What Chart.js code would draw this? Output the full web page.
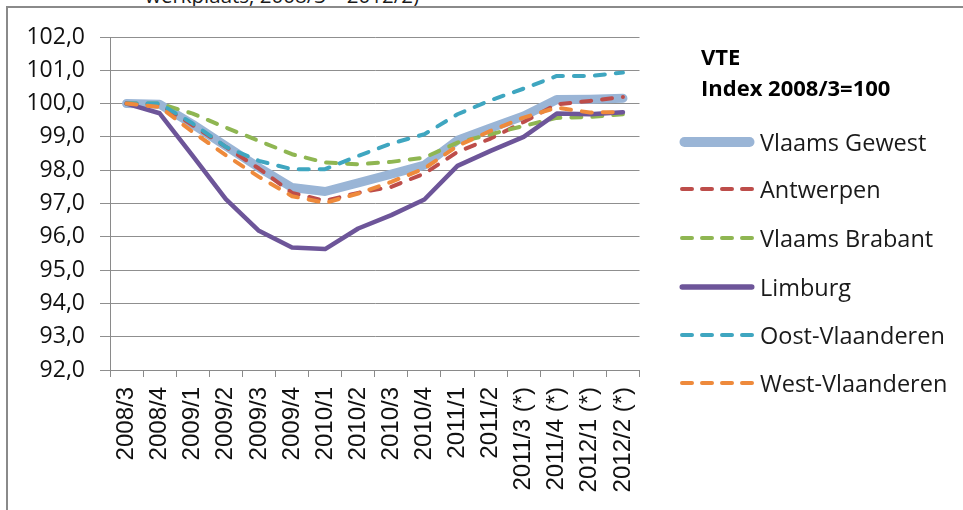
<!DOCTYPE html>
<html lang="nl">
<head>
  <meta charset="UTF-8" />
  <title>VTE Index 2008/3=100</title>
  <script src="https://cdn.jsdelivr.net/npm/chart.js"></script>
  <style>
    * { box-sizing: border-box; }
    html, body {
      margin: 0;
      width: 963px;
      height: 510px;
      overflow: hidden;
      background: #ffffff;
      font-family: 'Open Sans', sans-serif;
      color: #1a1a1a;
    }
    .kader {
      position: absolute;
      left: 6px;
      top: 6px;
      width: 1100px;
      height: 700px;
      border-top: 2px solid #8a8a8a;
      border-left: 2px solid #8a8a8a;
    }
    .koptekst {
      position: absolute;
      left: 145px;
      top: -15px;
      font-size: 20.5px;
      line-height: 20px;
      white-space: nowrap;
    }
    #grafiek {
      position: absolute;
      left: 0;
      top: 0;
    }
    .titel {
      position: absolute;
      left: 701px;
      top: 41px;
      font-weight: bold;
      font-size: 22px;
      line-height: 31px;
      color: #000;
    }
    .legende {
      position: absolute;
      left: 678px;
      top: 0;
    }
    .item {
      position: absolute;
      left: 0;
      height: 34px;
      display: flex;
      align-items: center;
      white-space: nowrap;
      font-size: 23.5px;
    }
    .item svg { margin-right: 2px; }
  </style>
</head>
<body>
  <div class="koptekst">werkplaats, 2008/3 – 2012/2)</div>
  <div class="kader"></div>
  <canvas id="grafiek" width="963" height="510"></canvas>
  <div class="titel">VTE<br>Index 2008/3=100</div>
  <div class="legende" id="legende"></div>

  <script>
    const kwartalen = ['2008/3', '2008/4', '2009/1', '2009/2', '2009/3', '2009/4', '2010/1', '2010/2',
      '2010/3', '2010/4', '2011/1', '2011/2', '2011/3 (*)', '2011/4 (*)', '2012/1 (*)', '2012/2 (*)'];

    const vlaamsGewest   = [100, 99.98, 99.38, 98.73, 98.08, 97.48, 97.36, 97.62, 97.88, 98.15, 98.9, 99.27, 99.63, 100.12, 100.13, 100.16];
    const antwerpen      = [100, 99.97, 99.35, 98.7, 98.05, 97.32, 97.08, 97.32, 97.5, 97.9, 98.55, 98.95, 99.45, 99.98, 100.08, 100.2];
    const vlaamsBrabant  = [100, 100.0, 99.7, 99.28, 98.88, 98.48, 98.23, 98.18, 98.25, 98.38, 98.83, 99.08, 99.33, 99.57, 99.6, 99.68];
    const limburg        = [100, 99.71, 98.43, 97.13, 96.18, 95.68, 95.63, 96.25, 96.65, 97.12, 98.13, 98.58, 99.0, 99.7, 99.68, 99.74];
    const oostVlaanderen = [100, 100.0, 99.4, 98.7, 98.28, 98.03, 98.03, 98.43, 98.8, 99.08, 99.68, 100.1, 100.45, 100.83, 100.83, 100.93];
    const westVlaanderen = [100, 99.9, 99.15, 98.45, 97.8, 97.22, 97.02, 97.3, 97.65, 98.05, 98.73, 99.18, 99.58, 99.88, 99.73, 99.75];

    const yLabels = ['92,0', '93,0', '94,0', '95,0', '96,0', '97,0', '98,0', '99,0', '100,0', '101,0', '102,0'];

    const reeksen = [
      { naam: 'Vlaams Gewest', data: vlaamsGewest, kleur: '#9ab5d6', dikte: 9, streep: [] },
      { naam: 'Antwerpen', data: antwerpen, kleur: '#bd4d4a', dikte: 4, streep: [10, 11] },
      { naam: 'Vlaams Brabant', data: vlaamsBrabant, kleur: '#8fb652', dikte: 4, streep: [10, 11] },
      { naam: 'Limburg', data: limburg, kleur: '#6d5599', dikte: 4.5, streep: [] },
      { naam: 'Oost-Vlaanderen', data: oostVlaanderen, kleur: '#3fa6c0', dikte: 4, streep: [10, 11] },
      { naam: 'West-Vlaanderen', data: westVlaanderen, kleur: '#ee8a3c', dikte: 4, streep: [10, 11] }
    ];

    // eerste reeks onderaan tekenen, zoals in Excel
    const datasets = reeksen.map((r, i) => ({
      label: r.naam,
      data: r.data,
      borderColor: r.kleur,
      backgroundColor: r.kleur,
      borderWidth: r.dikte,
      borderDash: r.streep,
      borderCapStyle: 'round',
      borderJoinStyle: 'round',
      pointRadius: 0,
      tension: 0,
      fill: false,
      order: reeksen.length - i
    }));

    new Chart(document.getElementById('grafiek'), {
      type: 'line',
      data: { labels: kwartalen, datasets: datasets },
      options: {
        responsive: false,
        animation: false,
        devicePixelRatio: 1,
        layout: { padding: { left: 0, top: 37, right: 323.5, bottom: 0 } },
        plugins: {
          legend: { display: false },
          tooltip: { enabled: false }
        },
        scales: {
          x: {
            offset: true,
            grid: { offset: true, drawOnChartArea: false, drawTicks: true, tickLength: 7, color: '#8a8a8a' },
            border: { color: '#8a8a8a', width: 1 },
            ticks: {
              autoSkip: false,
              minRotation: 90,
              maxRotation: 90,
              padding: 10,
              color: '#111',
              font: { family: 'Liberation Sans', size: 24 }
            },
            afterFit: (s) => { s.height = 140; }
          },
          y: {
            min: 92,
            max: 102,
            grid: { color: '#8f8f8f', lineWidth: 1, tickLength: 10 },
            border: { color: '#8a8a8a', width: 1 },
            ticks: {
              stepSize: 1,
              padding: 15,
              color: '#111',
              font: { family: 'Open Sans', size: 23 },
              callback: (v, i) => yLabels[i]
            },
            afterFit: (s) => { s.width = 110; }
          }
        }
      }
    });

    // legende in html, met svg-lijntjes
    const legende = document.getElementById('legende');
    const legendeY = [141.7, 189.3, 238.3, 286.7, 335, 383.3];
    reeksen.forEach((r, i) => {
      const el = document.createElement('div');
      el.className = 'item';
      el.style.top = (legendeY[i] - 17) + 'px';
      const dash = r.streep.length ? 'stroke-dasharray="10 10"' : '';
      el.innerHTML = `<svg width="80" height="16"><line x1="${r.dikte / 2 + 2}" y1="8" x2="${76 - r.dikte / 2}" y2="8"
        stroke="${r.kleur}" stroke-width="${r.dikte + (r.streep.length ? 0 : 1)}" stroke-linecap="round" ${dash}/></svg><span>${r.naam}</span>`;
      legende.appendChild(el);
    });
  </script>
</body>
</html>
